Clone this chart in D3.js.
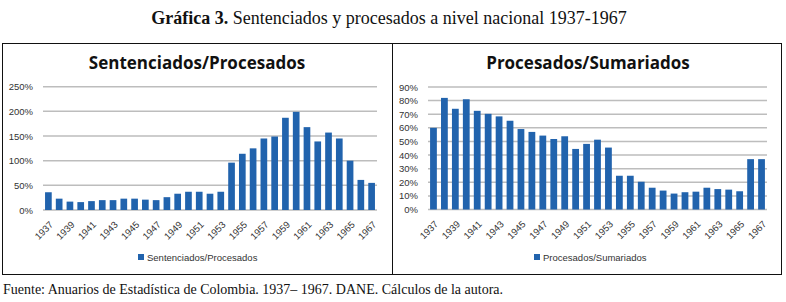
<!DOCTYPE html>
<html>
<head>
<meta charset="utf-8">
<script src="https://cdn.jsdelivr.net/npm/d3@7"></script>
<style>
  body { margin: 0; background: #fff; }
  svg { display: block; }
  .tick line { display: none; }
  .domain { display: none; }
</style>
</head>
<body>
<div id="chart"></div>
<script>
// Data
var years = d3.range(1937, 1968);
var sentenciadosProcesados = [36, 23, 17, 16, 18, 20, 20, 23, 23, 21, 20, 26, 33, 37, 37, 33, 37,
  96, 114, 125, 145, 149, 187, 199, 168, 139, 157, 145, 100, 61, 55];
var procesadosSumariados = [60, 82, 74, 81, 72.5, 70.3, 68.4, 65.2, 59.1, 57, 54.3, 51.8, 53.8, 44.5, 48.2, 51.3, 45.5,
  24.8, 24.8, 20.4, 16, 13.9, 11.7, 12.7, 13.1, 16, 15, 14.6, 13.4, 37, 37];
var leftTicks = [0, 50, 100, 150, 200, 250];
var rightTicks = [0, 10, 20, 30, 40, 50, 60, 70, 80, 90];
var yearLabels = years.filter(function(d) { return (d - 1937) % 2 === 0; });

var W = 786, H = 302;
var barColor = "#2163ad";

var svg = d3.select("#chart").append("svg")
  .attr("width", W)
  .attr("height", H);

// Header
var header = svg.append("text")
  .attr("x", 389)
  .attr("y", 24)
  .attr("text-anchor", "middle")
  .style("font-family", "'Liberation Serif', serif")
  .style("font-size", "18px")
  .style("fill", "#111");
header.append("tspan").style("font-weight", "bold").text("Gráfica 3.");
header.append("tspan").text(" Sentenciados y procesados a nivel nacional 1937-1967");

// Outer frame and divider
svg.append("rect")
  .attr("x", 2.5).attr("y", 43.5)
  .attr("width", 779).attr("height", 231)
  .attr("fill", "none").attr("stroke", "#111").attr("stroke-width", 1);
svg.append("line")
  .attr("x1", 392.5).attr("x2", 392.5)
  .attr("y1", 43.5).attr("y2", 274.5)
  .attr("stroke", "#111");

// Footer
var footer = svg.append("text")
  .attr("x", 3)
  .attr("y", 294)
  .style("font-family", "'Liberation Serif', serif")
  .style("font-size", "14px")
  .style("fill", "#111");
footer.append("tspan").text("Fuente:");
footer.append("tspan").text(" Anuarios de Estadística de Colombia. 1937– 1967. DANE. Cálculos de la autora.");

function drawChart(cfg) {
  var g = svg.append("g");

  var x = d3.scaleBand()
    .domain(years)
    .range([cfg.x0, cfg.x1])
    .paddingInner(0.38)
    .paddingOuter(0.19);

  var y = d3.scaleLinear()
    .domain([0, cfg.max])
    .range([cfg.yBase, cfg.yTop]);

  // title
  g.append("text")
    .attr("x", cfg.titleX)
    .attr("y", 69)
    .attr("text-anchor", "middle")
    .style("font-family", "'Open Sans', sans-serif")
    .style("font-weight", "bold")
    .style("font-size", "17px")
    .style("fill", "#111")
    .text(cfg.title);

  // gridlines
  g.selectAll(".grid")
    .data(cfg.ticks)
    .enter().append("line")
    .attr("x1", cfg.x0).attr("x2", cfg.x1)
    .attr("y1", function(d) { return y(d); })
    .attr("y2", function(d) { return y(d); })
    .attr("stroke", "#bdbdbd")
    .attr("stroke-width", 1.5);

  // y axis
  g.append("g")
    .attr("transform", "translate(" + (cfg.x0 - 7) + ",0)")
    .call(d3.axisLeft(y).tickValues(cfg.ticks).tickSize(0).tickFormat(function(d) { return d + "%"; }))
    .selectAll("text")
    .style("font-family", "'Liberation Sans', sans-serif")
    .style("font-size", "9.5px")
    .style("fill", "#333");

  // bars
  g.selectAll(".bar")
    .data(cfg.values)
    .enter().append("rect")
    .attr("x", function(d, i) { return x(years[i]); })
    .attr("y", function(d) { return y(d); })
    .attr("width", x.bandwidth())
    .attr("height", function(d) { return y(0) - y(d); })
    .attr("fill", barColor);

  // x axis, rotated labels every other year
  var xAxis = g.append("g")
    .attr("transform", "translate(0," + cfg.yBase + ")")
    .call(d3.axisBottom(x).tickValues(yearLabels).tickSize(0));
  xAxis.selectAll(".tick text").remove();
  xAxis.selectAll(".tick")
    .append("g")
    .attr("transform", "translate(3,13) rotate(-45)")
    .append("text")
    .attr("text-anchor", "end")
    .attr("dy", "0.35em")
    .style("font-family", "'Liberation Sans', sans-serif")
    .style("font-size", "9.5px")
    .style("fill", "#333")
    .text(function(d) { return d; });

  // legend
  var lg = g.append("g")
    .attr("transform", "translate(" + cfg.legendX + ",258)");
  lg.append("rect")
    .attr("x", 0).attr("y", -4)
    .attr("width", 6).attr("height", 6)
    .attr("fill", barColor);
  lg.append("text")
    .attr("x", 9)
    .attr("y", 0)
    .attr("dy", "0.35em")
    .style("font-family", "'Liberation Sans', sans-serif")
    .style("font-size", "9.5px")
    .style("fill", "#333")
    .text(cfg.title);
}

drawChart({
  title: "Sentenciados/Procesados",
  values: sentenciadosProcesados,
  ticks: leftTicks,
  max: 250,
  x0: 43, x1: 377,
  yBase: 210, yTop: 86.7,
  titleX: 197,
  legendX: 138
});

drawChart({
  title: "Procesados/Sumariados",
  values: procesadosSumariados,
  ticks: rightTicks,
  max: 90,
  x0: 428, x1: 767,
  yBase: 209.5, yTop: 87,
  titleX: 588,
  legendX: 534
});
</script>
</body>
</html>
